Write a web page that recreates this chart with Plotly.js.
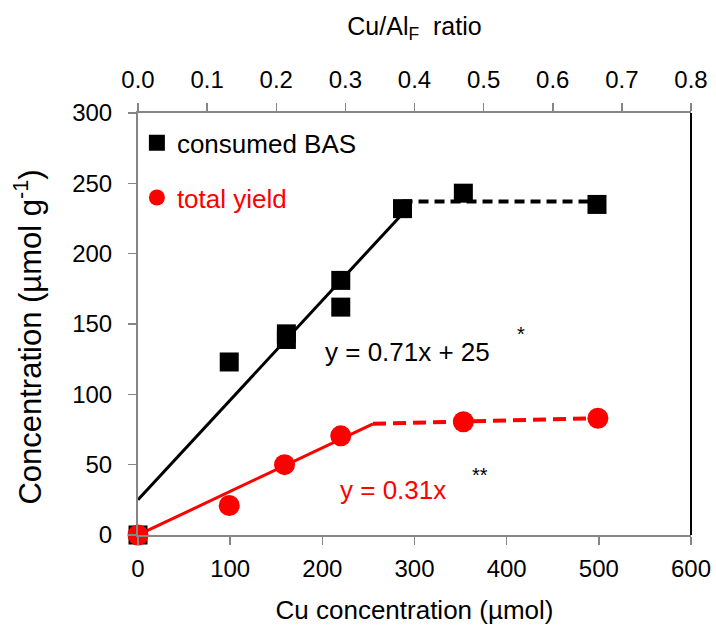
<!DOCTYPE html>
<html>
<head>
<meta charset="utf-8">
<script src="https://cdn.plot.ly/plotly-3.0.1.min.js"></script>
<style>html,body{margin:0;padding:0;background:#fff;}#chart{width:716px;height:628px;}</style>
</head>
<body>
<div id="chart"></div>
<script>
// Consumed BAS (black squares)
var basX = [0, 99, 161, 161, 220, 220, 287, 353, 498];
var basY = [0, 123, 143, 139, 181, 162, 232, 243, 235];
// Total yield (red circles)
var yieldX = [0, 99, 159, 220, 353, 499];
var yieldY = [0, 21, 50, 70.5, 80.5, 83];
// Fit lines
var basFitX = [0, 285];
var basFitY = [25, 227];
var basPlateauX = [287, 498];
var basPlateauY = [237, 237];
var yieldFitX = [0, 255];
var yieldFitY = [0, 79];
var yieldPlateauX = [255, 499];
var yieldPlateauY = [79, 83];
// Axis ticks
var bottomTicks = [0, 100, 200, 300, 400, 500, 600];
var topTicks = [0, 0.1, 0.2, 0.3, 0.4, 0.5, 0.6, 0.7, 0.8];
var yTicks = [0, 50, 100, 150, 200, 250, 300];

var FONT = 'Liberation Sans, Arial, sans-serif';
var GRAY = '#868686';

var traces = [
  {x: basFitX, y: basFitY, mode: 'lines', line: {color: '#000', width: 3}, showlegend: false, hoverinfo: 'skip', cliponaxis: false},
  {x: basPlateauX, y: basPlateauY, mode: 'lines', line: {color: '#000', width: 4, dash: '10px,6px'}, showlegend: false, hoverinfo: 'skip', cliponaxis: false},
  {x: yieldFitX, y: yieldFitY, mode: 'lines', line: {color: '#ff0000', width: 3}, showlegend: false, hoverinfo: 'skip', cliponaxis: false},
  {x: yieldPlateauX, y: yieldPlateauY, mode: 'lines', line: {color: '#ff0000', width: 4, dash: '13px,7px'}, showlegend: false, hoverinfo: 'skip', cliponaxis: false},
  {x: basX, y: basY, mode: 'markers', name: 'consumed BAS', legendgroup: 'a',
   marker: {symbol: 'square', size: 19, color: '#000'}, cliponaxis: false},
  {x: yieldX, y: yieldY, mode: 'markers', name: '<span style="color:#ff0000">total yield</span>', legendgroup: 'b',
   marker: {symbol: 'circle', size: 21, color: '#ff0000'}, cliponaxis: false},
  {x: [], y: [], xaxis: 'x2', mode: 'markers', showlegend: false, hoverinfo: 'skip'}
];

var layout = {
  width: 716, height: 628,
  margin: {l: 138, r: 25, t: 113, b: 93},
  paper_bgcolor: '#fff', plot_bgcolor: '#fff',
  font: {family: FONT, size: 24, color: '#000'},
  showlegend: true,
  legend: {x: -0.002, y: 0.985, xanchor: 'left', yanchor: 'top', bgcolor: 'rgba(0,0,0,0)',
           font: {family: FONT, size: 26, color: '#000'}, traceorder: 'grouped', tracegroupgap: 18,
           itemsizing: 'trace', itemwidth: 30},
  xaxis: {range: [0, 600], tickvals: bottomTicks, ticktext: bottomTicks.map(String),
          showgrid: false, zeroline: false, showline: true, linecolor: GRAY, linewidth: 2,
          ticks: 'outside', ticklen: 8, tickcolor: GRAY, tickwidth: 1.5, ticklabelstandoff: 3,
          tickfont: {family: FONT, size: 24, color: '#000'},
          title: {text: 'Cu concentration (µmol)', font: {family: FONT, size: 26, color: '#000'}, standoff: 20}},
  xaxis2: {range: [0, 0.8], overlaying: 'x', side: 'top', tickvals: topTicks, ticktext: topTicks.map(function(v){return v.toFixed(1);}),
           showgrid: false, zeroline: false, showline: true, linecolor: GRAY, linewidth: 2,
           ticks: 'outside', ticklen: 8, tickcolor: GRAY, tickwidth: 1.5, ticklabelstandoff: 5,
           tickfont: {family: FONT, size: 24, color: '#000'},
           title: {text: 'Cu/Al<sub>F</sub>&nbsp; ratio', font: {family: FONT, size: 25, color: '#000'}, standoff: 24}},
  yaxis: {range: [0, 300], tickvals: yTicks, ticktext: yTicks.map(String),
          showgrid: false, zeroline: false, showline: true, linecolor: GRAY, linewidth: 2,
          ticks: 'outside', ticklen: 8, tickcolor: GRAY, tickwidth: 1.5, ticklabelstandoff: 11,
          tickfont: {family: FONT, size: 24, color: '#000'}},
  shapes: [{type: 'line', xref: 'paper', yref: 'paper', x0: 1, x1: 1, y0: 0, y1: 1, line: {color: '#000', width: 2}}],
  annotations: [
    {x: -0.198, y: 0.469, xref: 'paper', yref: 'paper', xanchor: 'center', yanchor: 'middle', textangle: -90,
     text: 'Concentration (µmol g<sup>-1</sup>)', showarrow: false, font: {family: FONT, size: 31, color: '#000'}},
    {x: 292, y: 130, xref: 'x', yref: 'y', text: 'y = 0.71x + 25', showarrow: false, font: {family: FONT, size: 26, color: '#000'}},
    {x: 416, y: 143, xref: 'x', yref: 'y', text: '*', showarrow: false, font: {family: FONT, size: 20, color: '#000'}},
    {x: 277, y: 32, xref: 'x', yref: 'y', text: 'y = 0.31x', showarrow: false, font: {family: FONT, size: 26, color: '#ff0000'}},
    {x: 371, y: 43, xref: 'x', yref: 'y', text: '**', showarrow: false, font: {family: FONT, size: 20, color: '#000'}}
  ]
};

Plotly.newPlot('chart', traces, layout, {staticPlot: true, displayModeBar: false});
</script>
</body>
</html>
